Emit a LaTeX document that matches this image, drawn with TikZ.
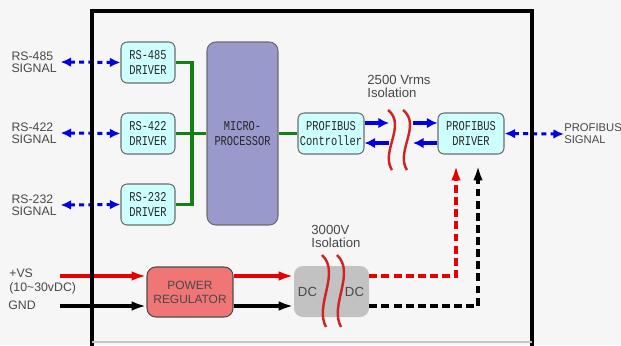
\documentclass[tikz,border=0pt]{standalone}
\usepackage{fontspec}
\setmainfont{Liberation Sans}
\newfontfamily\bmpfont{Liberation Mono}
\usetikzlibrary{arrows.meta}
\definecolor{bgcol}{RGB}{246,246,246}
\definecolor{drvcyan}{RGB}{206,255,255}
\definecolor{cpuviolet}{RGB}{153,153,204}
\definecolor{busgreen}{RGB}{20,128,20}
\definecolor{sigblue}{RGB}{0,0,225}
\definecolor{isored}{RGB}{210,35,35}
\definecolor{pwrred}{RGB}{232,0,0}
\definecolor{regred}{RGB}{240,118,118}
\definecolor{dcgray}{RGB}{194,194,194}
\definecolor{txtgray}{RGB}{72,72,72}
\newcommand\tallmono[1]{\scalebox{1}[1.3]{#1}}

\begin{document}
\begin{tikzpicture}[x=0.02cm,y=-0.02cm,
box/.style={draw=gray!85!black, line width=0.6pt, inner sep=0pt, align=center,
  text=black!85, font=\bmpfont\fontsize{5.9}{8.6}\selectfont},
drvbox/.style={box, fill=drvcyan, rounded corners=3.5pt,
  minimum width=1.08cm, minimum height=0.82cm},
cpubox/.style={box, fill=cpuviolet, rounded corners=5pt,
  minimum width=1.42cm, minimum height=3.66cm},
regbox/.style={draw=black!70, line width=0.6pt, fill=regred, rounded corners=5pt,
  minimum width=1.72cm, minimum height=1cm, align=center, text=txtgray,
  font=\fontsize{6.8}{8}\selectfont},
dcbox/.style={fill=dcgray, rounded corners=5pt,
  minimum width=1.5cm, minimum height=1.02cm},
siglbl/.style={inner sep=0pt, align=left, text=txtgray,
  font=\fontsize{7}{6.9}\selectfont},
isolbl/.style={inner sep=0pt, align=left, text=txtgray,
  font=\fontsize{7.5}{7.6}\selectfont},
sigdot/.style={sigblue, line width=1.7pt, dash pattern=on 2.8pt off 2.4pt,
  {Latex[length=6pt,width=5.5pt]}-{Latex[length=6pt,width=5.5pt]}},
sigarrow/.style={sigblue, line width=2pt, arrows={-Latex[length=6pt,width=6pt]}},
bus/.style={busgreen, line width=2.2pt},
pwrarrow/.style={line width=1.8pt, -{Latex[length=8.5pt,width=5.5pt]}},
pwrdash/.style={pwrarrow, dash pattern=on 4.5pt off 2.4pt},
frame/.style={line width=2.2pt, line join=miter},
isowave/.pic={
  \foreach \dx in {0,15}
    \draw[isored, line width=1.4pt]
      (\dx-6,-30) .. controls (\dx+13,-15) and (\dx-14,12) .. (\dx-2,30);}
]
\fill[bgcol] (0,0) rectangle (621,345);
\useasboundingbox (0,0) rectangle (621,345);
\clip (0,0) rectangle (621,345);

% drivers, cpu, profibus
\node[drvbox] (drv485) at (148,62.5) {\tallmono{RS-485}\\\tallmono{DRIVER}};
\node[drvbox] (drv422) at (148,133.5) {\tallmono{RS-422}\\\tallmono{DRIVER}};
\node[drvbox] (drv232) at (148,204.5) {\tallmono{RS-232}\\\tallmono{DRIVER}};
\node[cpubox] (cpu) at (242.5,133.5) {\tallmono{MICRO-}\\\tallmono{PROCESSOR}};
\node[drvbox, minimum width=1.32cm] (ctrl) at (331,133.5)
  {\tallmono{PROFIBUS}\\\tallmono{Controller}};
\node[drvbox, minimum width=1.32cm] (pbdrv) at (471,133.5)
  {\tallmono{PROFIBUS}\\\tallmono{DRIVER}};

% power part
\node[regbox] (reg) at (190,292) {POWER\\REGULATOR};
\node[dcbox] (dc) at (331.5,291.5) {};
\node[isolbl] (dcin) at (307.5,292) {DC};
\node[isolbl] (dcout) at (354.5,292) {DC};

% outside labels
\node[siglbl, anchor=east] (sig485) at (57,62) {RS-485\\SIGNAL};
\node[siglbl, anchor=east] (sig422) at (57,133) {RS-422\\SIGNAL};
\node[siglbl, anchor=east] (sig232) at (57,205) {RS-232\\SIGNAL};
\node[siglbl, anchor=west, font=\fontsize{6.4}{6.9}\selectfont] (sigpb)
  at (564,134) {PROFIBUS\\SIGNAL};
\node[siglbl, anchor=north west, font=\fontsize{7}{7.5}\selectfont] (vslbl)
  at (9,269) {+VS\\(10\textasciitilde30vDC)};
\node[siglbl, anchor=west] (gndlbl) at (8,305) {GND};
\node[isolbl, anchor=north west] (iso2500) at (367,75) {2500 Vrms\\Isolation};
\node[isolbl, anchor=north west] (iso3000) at (311,225) {3000V\\Isolation};

\coordinate (busx) at (192,0);
\coordinate (isoL) at (389,0);
\coordinate (isoR) at (413,0);
\coordinate (hi) at (0,123);
\coordinate (lo) at (0,143);
\coordinate (vsin) at (60,276);
\coordinate (gndin) at (60,306);
\coordinate (redup) at (456,0);
\coordinate (blkup) at (478,0);

% serial lines
\draw[sigdot] ([xshift=2pt]sig485.east) -- (drv485.west);
\draw[sigdot] ([xshift=2pt]sig422.east) -- (drv422.west);
\draw[sigdot] ([xshift=2pt]sig232.east) -- (drv232.west);
\draw[sigdot] (pbdrv.east) -- (sigpb.west);

\draw[bus] (drv485.east) -- (drv485.east -| busx) -- (drv232.east -| busx)
  -- (drv232.east);
\draw[bus] (drv422.east) -- (cpu.west |- drv422.east);
\draw[bus] (cpu.east |- ctrl.west) -- (ctrl.west);

\draw[sigarrow] (ctrl.east |- hi) -- (isoL |- hi);
\draw[sigarrow] (isoL |- lo) -- (ctrl.east |- lo);
\draw[sigarrow] (isoR |- hi) -- (pbdrv.west |- hi);
\draw[sigarrow] (pbdrv.west |- lo) -- (isoR |- lo);
\path (394,140) pic {isowave};

% supply
\draw[pwrarrow, pwrred] (vsin) -- (vsin -| reg.west);
\draw[pwrarrow, pwrred] (vsin -| reg.east) -- (vsin -| dc.west);
\draw[pwrarrow] (gndin) -- (gndin -| reg.west);
\draw[pwrarrow] (gndin -| reg.east) -- (gndin -| dc.west);
\path (328,291) pic[yscale=1.2] {isowave};
\draw[pwrdash, pwrred, shorten >=0.22cm] (vsin -| dc.east) -| (redup |- pbdrv.south);
\draw[pwrdash, shorten >=0.22cm] (gndin -| dc.east) -| (blkup |- pbdrv.south);

\draw[frame] (92,360) -- (92,11) -- (532,11) -- (532,360);
\draw[gray!45, line width=0.6pt] (92,342) -- (532,342);
\end{tikzpicture}
\end{document}
